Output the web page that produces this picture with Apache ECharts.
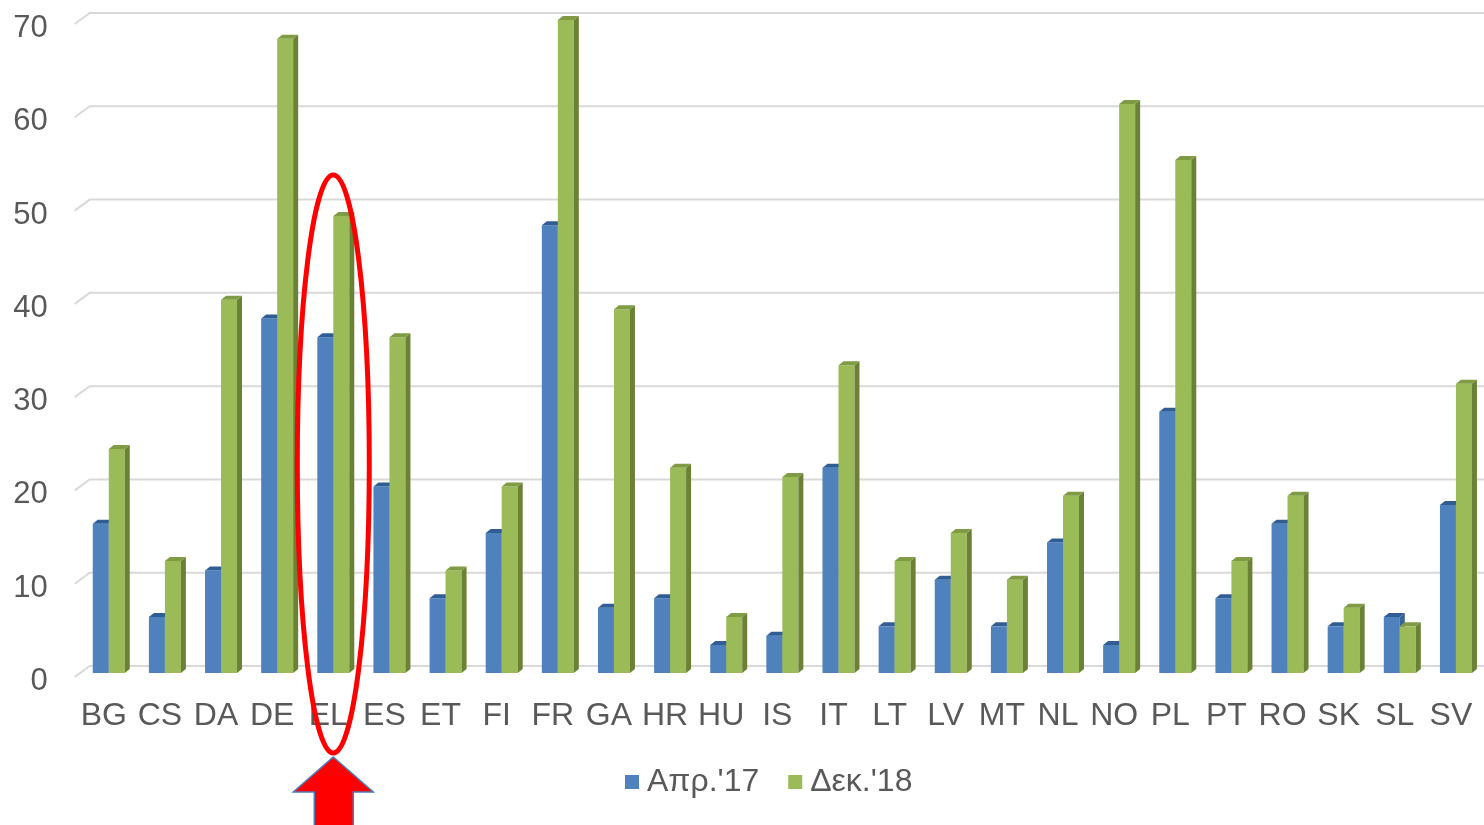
<!DOCTYPE html>
<html>
<head>
<meta charset="utf-8">
<script src="https://cdn.jsdelivr.net/npm/echarts@6/dist/echarts.min.js"></script>
<style>
  html, body { margin: 0; padding: 0; background: #ffffff; }
  #chart { width: 1484px; height: 825px; }
</style>
</head>
<body>
<div id="chart"></div>
<script>
// Country codes along the category axis
const categories = ['BG','CS','DA','DE','EL','ES','ET','FI','FR','GA','HR','HU','IS','IT','LT','LV','MT','NL','NO','PL','PT','RO','SK','SL','SV'];
// Series values
const apr17 = [16, 6, 11, 38, 36, 20, 8, 15, 48, 7, 8, 3, 4, 22, 5, 10, 5, 14, 3, 28, 8, 16, 5, 6, 18];
const dec18 = [24, 12, 40, 68, 49, 36, 11, 20, 70, 39, 22, 6, 21, 33, 12, 15, 10, 19, 61, 55, 12, 19, 7, 5, 31];
// Value-axis ticks
const yTicks = [0, 10, 20, 30, 40, 50, 60, 70];
const seriesNames = ["Απρ.'17", "Δεκ.'18"];
const highlighted = 'EL';

const FONT = '"Liberation Sans", Arial, sans-serif';
const DEPTH_X = 5, DEPTH_Y = -4;

const palette = [
  { front: '#4f81bd', side: '#3b6495', top: '#2f5d94' },
  { front: '#9bbb59', side: '#6b8136', top: '#7f9b43' }
];

// Excel-style 3D column: front face, right side and top cap
function columnRenderer(slot) {
  return function (params, api) {
    const idx = api.value(0);
    const val = api.value(1);
    const top = api.coord([idx, val]);
    const base = api.coord([idx, 0]);
    const band = api.size([1, 0])[0];
    const bw = band * 0.285;
    const x0 = top[0] - bw + slot * bw;
    const x1 = x0 + bw;
    const yT = top[1], yB = base[1];
    const c = palette[slot];
    return {
      type: 'group',
      children: [
        { type: 'rect', shape: { x: x0, y: yT, width: bw, height: yB - yT }, style: { fill: c.front } },
        { type: 'polygon', shape: { points: [[x1, yT], [x1 + DEPTH_X, yT + DEPTH_Y], [x1 + DEPTH_X, yB + DEPTH_Y], [x1, yB]] }, style: { fill: c.side } },
        { type: 'polygon', shape: { points: [[x0, yT], [x0 + DEPTH_X, yT + DEPTH_Y], [x1 + DEPTH_X, yT + DEPTH_Y], [x1, yT]] }, style: { fill: c.top } }
      ]
    };
  };
}

// Back-wall gridlines with the short floor diagonal at the left
function gridRenderer(params, api) {
  const v = api.value(0);
  const p = api.coord([0, v]);
  const sys = params.coordSys;
  const y = p[1];
  return {
    type: 'polyline',
    shape: { points: [[sys.x - 6, y + 4], [sys.x + 9, y - 7], [sys.x + sys.width + 10, y - 7]] },
    style: { stroke: '#d9d9d9', lineWidth: 2, fill: null }
  };
}

const chart = echarts.init(document.getElementById('chart'), null, { renderer: 'canvas' });

chart.setOption({
  animation: false,
  backgroundColor: '#ffffff',
  grid: { left: 80.7, top: 20, width: 1407.5, bottom: 152, containLabel: false },
  legend: {
    data: seriesNames,
    left: 620,
    top: 761,
    icon: 'rect',
    itemWidth: 14,
    itemHeight: 14,
    itemGap: 29,
    textStyle: { fontFamily: FONT, fontSize: 32, color: '#595959', padding: [0, 0, 0, 3] }
  },
  xAxis: {
    type: 'category',
    data: categories,
    axisLine: { show: false },
    axisTick: { show: false },
    splitLine: { show: false },
    axisLabel: {
      interval: 0,
      margin: 27,
      padding: [0, 10, 0, 0],
      fontFamily: FONT,
      fontSize: 32,
      color: '#595959'
    }
  },
  yAxis: {
    type: 'value',
    min: 0,
    max: 70,
    interval: 10,
    axisLine: { show: false },
    axisTick: { show: false },
    splitLine: { show: false },
    axisLabel: {
      margin: 33,
      verticalAlign: 'top',
      lineHeight: 17,
      fontFamily: FONT,
      fontSize: 31,
      color: '#595959'
    }
  },
  series: [
    {
      type: 'custom',
      name: 'grid',
      silent: true,
      z: 1,
      renderItem: gridRenderer,
      data: yTicks.map(t => [t]),
      encode: { y: 0 }
    },
    {
      type: 'custom',
      name: seriesNames[0],
      z: 2,
      itemStyle: { color: palette[0].front },
      renderItem: columnRenderer(0),
      data: apr17.map((v, i) => [i, v]),
      encode: { x: 0, y: 1 }
    },
    {
      type: 'custom',
      name: seriesNames[1],
      z: 3,
      itemStyle: { color: palette[1].front },
      renderItem: columnRenderer(1),
      data: dec18.map((v, i) => [i, v]),
      encode: { x: 0, y: 1 }
    }
  ]
});

// Highlight ring and pointer arrow under the chosen country
const cx = chart.convertToPixel({ xAxisIndex: 0 }, highlighted);
const ringTop = 175, ringBottom = 753;
const tipY = 757;
chart.setOption({
  graphic: [
    {
      type: 'ellipse',
      z: 100,
      shape: { cx: cx, cy: (ringTop + ringBottom) / 2, rx: 36, ry: (ringBottom - ringTop) / 2 },
      style: { fill: null, stroke: '#ff0000', lineWidth: 5 }
    },
    {
      type: 'polygon',
      z: 100,
      shape: {
        points: [
          [cx, tipY], [cx + 40, tipY + 35], [cx + 20, tipY + 35], [cx + 20, 830],
          [cx - 19, 830], [cx - 19, tipY + 35], [cx - 40, tipY + 35]
        ]
      },
      style: { fill: '#ff0000', stroke: '#4a7ebb', lineWidth: 1.5 }
    }
  ]
});
</script>
</body>
</html>
